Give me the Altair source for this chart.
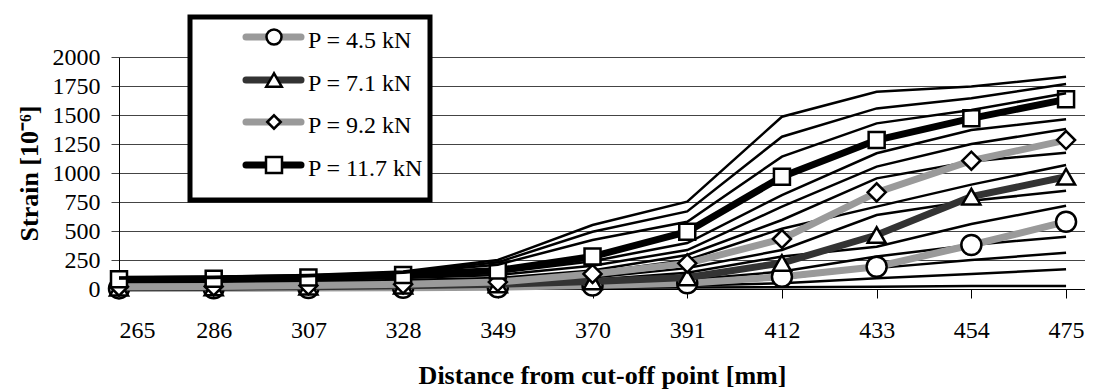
import altair as alt
import pandas as pd

FONT = "Liberation Serif"

# ---- data ----
x_vals = [265, 286, 307, 328, 349, 370, 391, 412, 433, 454, 475]
y_ticks = [0, 250, 500, 750, 1000, 1250, 1500, 1750, 2000]

# thin black lines (other load steps), grouped by where they sit between highlighted series
thin_g1 = {
    "L13": [5, 5, 6, 7, 8, 10, 12, 15, 20, 25, 26],
    "L12": [10, 10, 12, 14, 16, 20, 30, 50, 92, 130, 170],
    "L11": [15, 16, 18, 20, 25, 35, 50, 90, 180, 250, 313],
    "L10": [20, 22, 25, 30, 35, 50, 80, 150, 280, 380, 451],
}
thin_g2 = {
    "L9": [30, 32, 36, 42, 50, 80, 140, 280, 365, 560, 718],
    "L8": [35, 38, 42, 50, 60, 100, 180, 336, 638, 760, 847],
}
thin_g3 = {
    "L7": [45, 48, 55, 65, 80, 140, 250, 520, 710, 900, 1069],
    "L6": [55, 58, 65, 78, 95, 160, 293, 595, 954, 1100, 1175],
}
thin_g4 = {
    "L5": [65, 68, 80, 95, 120, 200, 336, 710, 1055, 1250, 1379],
    "L4": [75, 78, 90, 110, 140, 240, 396, 810, 1170, 1370, 1463],
}
thin_g5 = {
    "L3": [90, 95, 110, 140, 210, 422, 580, 1141, 1428, 1543, 1687],
    "L2": [95, 100, 115, 145, 230, 494, 669, 1313, 1557, 1644, 1767],
    "L1": [100, 105, 120, 150, 250, 552, 753, 1485, 1701, 1745, 1830],
}

p45 = [5, 6, 8, 10, 15, 30, 50, 106, 192, 379, 580]
p71 = [12, 14, 20, 28, 40, 65, 100, 224, 465, 796, 968]
p92 = [20, 22, 30, 40, 60, 130, 221, 431, 833, 1106, 1284]
p117 = [85, 88, 100, 120, 160, 280, 494, 968, 1284, 1471, 1635]

legend_labels = ["P = 4.5 kN", "P = 7.1 kN", "P = 9.2 kN", "P = 11.7 kN"]
legend_colors = ["#9a9a9a", "#333333", "#9a9a9a", "#000000"]
legend_shapes = ["circle", "triangle-up", "diamond", "square"]
chart_sizes = [400, 324, 324, 256]
legend_sizes = [225, 240, 180, 256]
series_values = [p45, p71, p92, p117]


def enc():
    return dict(
        x=alt.X(
            "x:Q",
            scale=alt.Scale(domain=[265, 479.2], nice=False, zero=False),
            axis=alt.Axis(
                values=x_vals,
                format="d",
                title="Distance from cut-off point [mm]",
                grid=False,
                domainColor="black",
                domainWidth=1,
                tickColor="black",
                tickSize=9,
                labelPadding=20,
                labelFont=FONT,
                labelFontSize=24,
                labelColor="black",
                labelOverlap=False,
                labelBound=False,
                titleFont=FONT,
                titleFontSize=26,
                titleFontWeight="bold",
                titleColor="black",
                titlePadding=20,
            ),
        ),
        y=alt.Y(
            "y:Q",
            scale=alt.Scale(domain=[0, 2000], nice=False),
            axis=alt.Axis(
                values=y_ticks,
                format="d",
                title="Strain [10⁻⁶]",
                grid=True,
                gridColor="#444444",
                gridWidth=1,
                domainColor="black",
                domainWidth=1,
                tickColor="#444444",
                tickSize=8,
                labelPadding=11,
                labelFont=FONT,
                labelFontSize=24,
                labelColor="black",
                titleFont=FONT,
                titleFontSize=26,
                titleFontWeight="bold",
                titleColor="black",
                titlePadding=10,
            ),
        ),
    )


def long_df(d):
    rows = []
    for name, vals in d.items():
        for xv, yv in zip(x_vals, vals):
            rows.append({"series": name, "x": xv, "y": yv})
    return pd.DataFrame(rows)


def thin_layer(d):
    return alt.Chart(long_df(d)).mark_line(color="black", strokeWidth=2.5).encode(
        detail="series:N", **enc()
    )


def thick_layers(i):
    df = pd.DataFrame({"x": x_vals, "y": series_values[i]})
    line = alt.Chart(df).mark_line(color=legend_colors[i], strokeWidth=7).encode(**enc())
    pts = alt.Chart(df).mark_point(
        shape=legend_shapes[i], size=chart_sizes[i], filled=True,
        fill="white", stroke="black", strokeWidth=2.5, opacity=1,
    ).encode(**enc())
    return [line, pts]


layers = []
layers.append(thin_layer(thin_g1))
layers += thick_layers(0)
layers.append(thin_layer(thin_g2))
layers += thick_layers(1)
layers.append(thin_layer(thin_g3))
layers += thick_layers(2)
layers.append(thin_layer(thin_g4))
layers += thick_layers(3)
layers.append(thin_layer(thin_g5))

# ---- manual legend box ----
dummy = pd.DataFrame({"a": [0]})
layers.append(
    alt.Chart(dummy).mark_rect(fill="white", stroke="black", strokeWidth=5).encode(
        x=alt.value(71), x2=alt.value(311), y=alt.value(-40), y2=alt.value(143)
    )
)
row_y = [-20, 23, 65, 108]
for i, lab in enumerate(legend_labels):
    layers.append(
        alt.Chart(dummy).mark_rule(color=legend_colors[i], strokeWidth=7, strokeCap="round").encode(
            x=alt.value(127), x2=alt.value(182), y=alt.value(row_y[i])
        )
    )
    layers.append(
        alt.Chart(dummy).mark_point(
            shape=legend_shapes[i], size=legend_sizes[i], filled=True,
            fill="white", stroke="black", strokeWidth=2.5, opacity=1,
        ).encode(x=alt.value(155), y=alt.value(row_y[i]))
    )
    layers.append(
        alt.Chart(dummy).mark_text(
            text=lab, font=FONT, fontSize=24, align="left", baseline="alphabetic", color="black"
        ).encode(x=alt.value(189), y=alt.value(row_y[i] + 11))
    )

chart = (
    alt.layer(*layers)
    .properties(
        width=966,
        height=232,
        autosize=alt.AutoSizeParams(type="none"),
        padding={"left": 111, "top": 49, "right": 0, "bottom": 103},
        background="white",
    )
    .configure_view(stroke=None)
)

chart.save("out.html", embed_options={"renderer": "svg", "actions": False})
